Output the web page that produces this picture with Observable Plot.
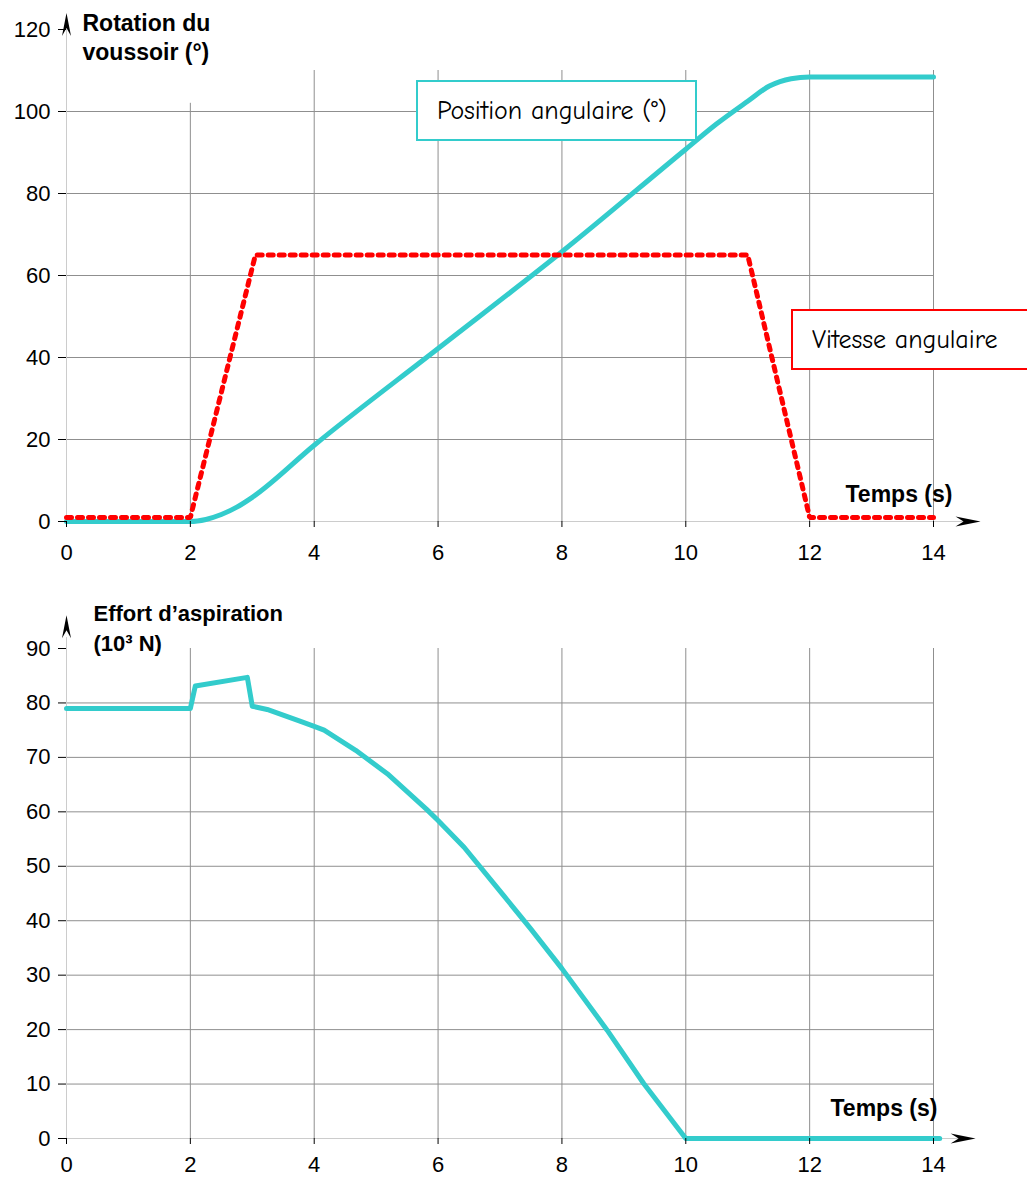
<!DOCTYPE html>
<html>
<head>
<meta charset="utf-8">
<script src="https://cdn.jsdelivr.net/npm/d3@7"></script>
<script src="https://cdn.jsdelivr.net/npm/@observablehq/plot@0.6"></script>
<style>
  html, body { margin: 0; padding: 0; background: #fff; }
  #wrap { position: relative; width: 1027px; height: 1178px; overflow: hidden; background: #fff; }
  #wrap svg { display: block; }
  .box { position: absolute; background: #fff; box-sizing: border-box; font-family: "Comic Sans MS", "Comic Neue", cursive; font-size: 26px; color: #000; display: flex; align-items: center; white-space: nowrap; }
</style>
</head>
<body>
<div id="wrap"></div>
<script>
// ---------- data ----------
const xTicks = [0, 2, 4, 6, 8, 10, 12, 14];
const yTicksTop = [0, 20, 40, 60, 80, 100, 120];
const yTicksBottom = [0, 10, 20, 30, 40, 50, 60, 70, 80, 90];

// Position angulaire (°)
const timePos = [0, 2, 2.25, 2.5, 2.75, 3, 4, 6, 8, 10, 10.5, 11, 11.35, 11.7, 12, 14];
const position = [0, 0, 0.5, 1.7, 3.5, 5.9, 18.6, 42.2, 65.8, 90.8, 97.0, 102.5, 106.2, 108.0, 108.4, 108.4];

// Vitesse angulaire
const timeVit = [0, 2, 3.05, 11, 12, 14];
const vitesse = [1, 1, 65, 65, 1, 1];

// Effort d'aspiration (10^3 N)
const timeEff = [0, 2, 2.08, 2.92, 3.0, 3.24, 3.78, 4.0, 4.16, 4.67, 5.18, 5.82, 6.0, 6.42, 7.06, 7.49, 8.0, 8.73, 9.32, 10, 14.1];
const effort = [79, 79, 83.1, 84.7, 79.4, 78.8, 76.6, 75.7, 75.0, 71.3, 67.0, 60.4, 58.4, 53.5, 44.6, 38.6, 31.2, 19.9, 10.1, 0, 0];

const posData = timePos.map((t, i) => ({t, v: position[i]}));
const vitData = timeVit.map((t, i) => ({t, v: vitesse[i]}));
const effData = timeEff.map((t, i) => ({t, v: effort[i]}));

// ---------- styles ----------
const CYAN = "#33CCCC";
const RED = "#FF0000";
const GRID = "#8f8f8f";
const AXIS = "#cccccc";
const FONT = "'Liberation Sans', Arial, Helvetica, sans-serif";

const arrowRight = {draw(ctx) { ctx.moveTo(0, 0); ctx.lineTo(-25, -5); ctx.lineTo(-17, 0); ctx.lineTo(-25, 5); ctx.closePath(); }};
const arrowUp = {draw(ctx) { ctx.moveTo(0, 0); ctx.lineTo(-4.5, 23); ctx.lineTo(0, 15); ctx.lineTo(4.5, 23); ctx.closePath(); }};

const wrap = document.getElementById("wrap");

// ---------- top chart ----------
const chartTop = Plot.plot({
  width: 1027, height: 570,
  marginLeft: 66, marginRight: 94, marginTop: 29, marginBottom: 49,
  x: {domain: [0, 14]},
  y: {domain: [0, 120]},
  style: {fontFamily: FONT, fontSize: "22px", background: "#fff", overflow: "visible", color: "#000"},
  marks: [
    Plot.ruleY(yTicksTop.filter(d => d > 0 && d < 120), {x1: 0, x2: 14, stroke: GRID, strokeWidth: 1}),
    Plot.ruleX(xTicks.filter(d => d > 0), {y1: 0, y2: d => d === 2 ? 102 : 110, stroke: GRID, strokeWidth: 1}),
    Plot.ruleY([0], {x1: 0, x2: 14.6, stroke: AXIS}),
    Plot.ruleX([0], {y1: 0, y2: 120, stroke: AXIS}),
    Plot.dot([{x: 14.76, y: 0}], {x: "x", y: "y", symbol: arrowRight, fill: "#000", stroke: "none"}),
    Plot.dot([{x: 0, y: 124}], {x: "x", y: "y", symbol: arrowUp, fill: "#000", stroke: "none"}),
    Plot.line(posData, {x: "t", y: "v", stroke: CYAN, strokeWidth: 5, curve: "monotone-x", strokeLinejoin: "round"}),
    Plot.line(vitData, {x: "t", y: "v", stroke: RED, strokeWidth: 5, strokeDasharray: "5,6", strokeLinejoin: "miter"}),
    Plot.axisY({ticks: yTicksTop, tickSize: 8, tickPadding: 8, label: null, fontSize: 22}),
    Plot.axisX({ticks: xTicks, tickSize: 6, tickPadding: 17, label: null, fontSize: 22}),
    Plot.text(["Rotation du\nvoussoir (°)"], {frameAnchor: "top-left", textAnchor: "start", lineAnchor: "bottom", dx: 16, dy: 30, fontSize: 23, fontWeight: "bold", lineHeight: 1.22}),
    Plot.text(["Temps (s)"], {frameAnchor: "bottom-right", textAnchor: "start", lineAnchor: "bottom", dx: -88, dy: -20, fontSize: 23, fontWeight: "bold"})
  ]
});
wrap.appendChild(chartTop);

// ---------- bottom chart ----------
const chartBottom = Plot.plot({
  width: 1027, height: 608,
  marginLeft: 66, marginRight: 94, marginTop: 78, marginBottom: 40,
  x: {domain: [0, 14]},
  y: {domain: [0, 90]},
  style: {fontFamily: FONT, fontSize: "22px", background: "#fff", overflow: "visible", color: "#000"},
  marks: [
    Plot.ruleY(yTicksBottom.filter(d => d > 0 && d < 90), {x1: 0, x2: 14, stroke: GRID, strokeWidth: 1}),
    Plot.ruleX(xTicks.filter(d => d > 0), {y1: 0, y2: 90, stroke: GRID, strokeWidth: 1}),
    Plot.ruleY([0], {x1: 0, x2: 14.55, stroke: AXIS}),
    Plot.ruleX([0], {y1: 0, y2: 92, stroke: AXIS}),
    Plot.dot([{x: 14.68, y: 0}], {x: "x", y: "y", symbol: arrowRight, fill: "#000", stroke: "none"}),
    Plot.dot([{x: 0, y: 96.1}], {x: "x", y: "y", symbol: arrowUp, fill: "#000", stroke: "none"}),
    Plot.line(effData, {x: "t", y: "v", stroke: CYAN, strokeWidth: 5, strokeLinejoin: "round"}),
    Plot.axisY({ticks: yTicksBottom, tickSize: 8, tickPadding: 8, label: null, fontSize: 22}),
    Plot.axisX({ticks: xTicks, tickSize: 6, tickPadding: 12, label: null, fontSize: 22}),
    Plot.text(["Effort d’aspiration\n(10³ N)"], {frameAnchor: "top-left", textAnchor: "start", lineAnchor: "bottom", dx: 27, dy: 2, fontSize: 22, fontWeight: "bold", lineHeight: 1.36}),
    Plot.text(["Temps (s)"], {frameAnchor: "bottom-right", textAnchor: "start", lineAnchor: "bottom", dx: -103, dy: -23, fontSize: 23, fontWeight: "bold"})
  ]
});
wrap.appendChild(chartBottom);

// ---------- legend boxes ----------
function addBox(text, left, topPx, width, color) {
  const d = document.createElement("div");
  d.className = "box";
  d.style.left = left + "px";
  d.style.top = topPx + "px";
  d.style.width = width + "px";
  d.style.height = "61px";
  d.style.border = "2px solid " + color;
  d.style.paddingLeft = "19px";
  d.textContent = text;
  wrap.appendChild(d);
}
addBox("Position angulaire (°)", 416, 80, 281, CYAN);
addBox("Vitesse angulaire", 791, 309, 280, RED);
</script>
</body>
</html>
